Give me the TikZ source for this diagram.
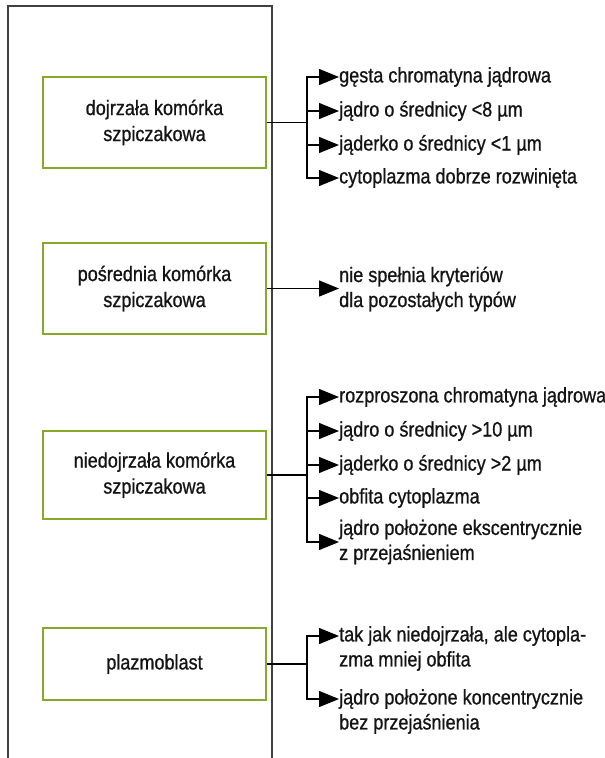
\documentclass[tikz,border=0pt]{standalone}
\usepackage{fontspec}
\setmainfont[FakeStretch=0.86,FakeBold=0.8]{Liberation Sans}
\usetikzlibrary{arrows.meta}
\definecolor{boxgreen}{RGB}{133,170,40}
\definecolor{txt}{RGB}{20,20,20}
\tikzset{
  bigtip/.tip={Triangle[length=20pt,width=16pt]},
  cell/.style={draw=boxgreen, line width=1.3pt, minimum width=223pt, align=center, inner sep=0pt, font=\fontsize{21}{26}\selectfont, text=txt},
  item/.style={anchor=west, inner sep=0pt, align=left, font=\fontsize{21}{25}\selectfont, text=txt},
  conn/.style={line width=1.3pt, draw=black},
  arr/.style={conn, arrows={-bigtip}},
  framel/.style={line width=1.2pt, draw=black!75}
}
\begin{document}
\begin{tikzpicture}[x=1pt,y=-1pt]
\useasboundingbox (0,0) rectangle (605,758);
\draw[framel] (8,758) -- (8,6) -- (272,6) -- (272,758);

% boxes
\node[cell, minimum height=91pt] (b1) at (154.5,122.5) {dojrzała komórka\\szpiczakowa};
\node[cell, minimum height=91pt] (b2) at (154.5,288.5) {pośrednia komórka\\szpiczakowa};
\node[cell, minimum height=88pt] (b3) at (154.5,475) {niedojrzała komórka\\szpiczakowa};
\node[cell, minimum height=72pt] (b4) at (154.5,664) {plazmoblast};

% box 1 items
\node[item] (a1) at (339,77) {gęsta chromatyna jądrowa};
\node[item] (a2) at (339,111) {jądro o średnicy <8 µm};
\node[item] (a3) at (339,145) {jąderko o średnicy <1 µm};
\node[item] (a4) at (339,178) {cytoplazma dobrze rozwinięta};
\coordinate (j1) at (307,122.5);
\draw[conn] (b1.east) -- (j1);
\foreach \n in {a1,a2,a3,a4} \draw[arr] (j1) |- (\n.west);

% box 2 item
\node[item] (c1) at (339,289) {nie spełnia kryteriów\\dla pozostałych typów};
\draw[arr] (b2.east) -- (b2.east -| c1.west);

% box 3 items
\node[item] (d1) at (339,397) {rozproszona chromatyna jądrowa};
\node[item] (d2) at (339,431) {jądro o średnicy >10 µm};
\node[item] (d3) at (339,465) {jąderko o średnicy >2 µm};
\node[item] (d4) at (339,498) {obfita cytoplazma};
\node[item] (d5) at (339,542) {jądro położone ekscentrycznie\\z przejaśnieniem};
\coordinate (j3) at (307,475);
\draw[conn] (b3.east) -- (j3);
\foreach \n in {d1,d2,d3,d4,d5} \draw[arr] (j3) |- (\n.west);

% box 4 items
\node[item] (e1) at (339,648.5) {tak jak niedojrzała, ale cytopla-\\zma mniej obfita};
\node[item] (e2) at (339,711.5) {jądro położone koncentrycznie\\bez przejaśnienia};
\coordinate (t1) at (339,636);
\coordinate (t2) at (339,699);
\coordinate (j4) at (307,664);
\draw[conn] (b4.east) -- (j4);
\draw[arr] (j4) |- (t1);
\draw[arr] (j4) |- (t2);
\end{tikzpicture}
\end{document}
